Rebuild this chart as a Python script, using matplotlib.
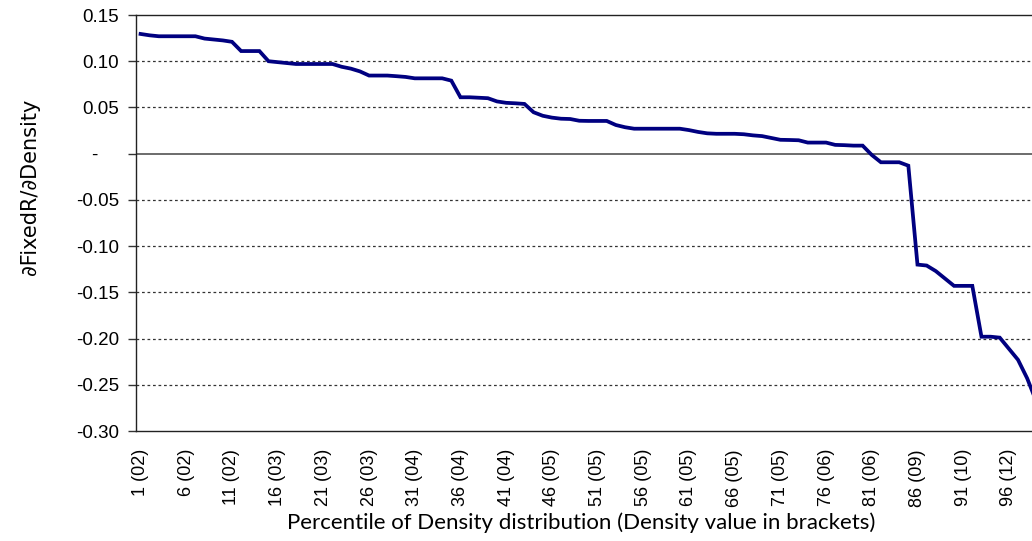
import matplotlib
matplotlib.use("Agg")
import matplotlib.pyplot as plt

# percentile of density distribution (1..99 visible in the picture)
percentiles = list(range(1, 100))
dfixed_ddensity = [
    0.1295, 0.128, 0.127, 0.127, 0.127, 0.127, 0.127, 0.1245, 0.1235, 0.1225,
    0.121, 0.111, 0.111, 0.111, 0.100, 0.099, 0.098, 0.097, 0.097, 0.097,
    0.097, 0.097, 0.094, 0.092, 0.089, 0.0845, 0.0845, 0.0845, 0.0838, 0.083,
    0.0815, 0.0815, 0.0815, 0.0815, 0.079, 0.061, 0.061, 0.0605, 0.060, 0.0565,
    0.055, 0.0545, 0.0538, 0.0448, 0.041, 0.039, 0.0378, 0.0375, 0.0356, 0.0354,
    0.0354, 0.0354, 0.031, 0.0286, 0.027, 0.027, 0.027, 0.027, 0.027, 0.027,
    0.0255, 0.0235, 0.022, 0.0215, 0.0215, 0.0215, 0.021, 0.0198, 0.019, 0.017,
    0.015, 0.0148, 0.0145, 0.012, 0.012, 0.012, 0.0095, 0.0092, 0.0087, 0.0087,
    -0.0014, -0.0093, -0.0093, -0.0093, -0.013, -0.120, -0.121, -0.127, -0.135, -0.143,
    -0.143, -0.143, -0.198, -0.198, -0.199, -0.211, -0.223, -0.243, -0.268,
]

tick_positions = list(range(1, 100, 5))
tick_labels = [
    "1 (02)", "6 (02)", "11 (02)", "16 (03)", "21 (03)", "26 (03)", "31 (04)",
    "36 (04)", "41 (04)", "46 (05)", "51 (05)", "56 (05)", "61 (05)", "66 (05)",
    "71 (05)", "76 (06)", "81 (06)", "86 (09)", "91 (10)", "96 (12)",
]
y_ticks = [0.15, 0.10, 0.05, 0.0, -0.05, -0.10, -0.15, -0.20, -0.25, -0.30]
y_labels = ["0.15", "0.10", "0.05", "-    ", "-0.05", "-0.10", "-0.15",
            "-0.20", "-0.25", "-0.30"]

fig = plt.figure(figsize=(10.32, 5.41), dpi=100)
ax = fig.add_axes([136 / 1032, 1 - 431 / 541, 1 - 136 / 1032, 416 / 541])

# dashed gridlines, solid zero line
for y in y_ticks:
    if y in (0.15, -0.30):
        continue
    if y == 0.0:
        ax.axhline(y, color="#444444", lw=1.1, zorder=1)
    else:
        ax.axhline(y, color="#333333", lw=0.9, ls=(0, (2.2, 2.2)), zorder=1)

ax.plot(percentiles, dfixed_ddensity, color="#000080", lw=2.7,
        solid_joinstyle="miter", zorder=3)

ax.set_xlim(0.5, 98.53)
ax.set_ylim(-0.30, 0.15)

ax.set_yticks(y_ticks)
ax.set_yticklabels(y_labels, fontfamily="Liberation Sans", fontsize=13.5)
ax.tick_params(axis="y", direction="out", length=6, width=1, pad=6,
               color="#333333")

ax.set_xticks(tick_positions)
ax.set_xticklabels(tick_labels, rotation=90, fontfamily="Liberation Sans",
                   fontsize=13)
ax.tick_params(axis="x", length=0, pad=13)

ax.spines["right"].set_visible(False)
for side in ("left", "top", "bottom"):
    ax.spines[side].set_color("#222222")
    ax.spines[side].set_linewidth(1.0)

fig.text(30 / 1032, 1 - 187 / 541, "\u2202FixedR/\u2202Density", rotation=90,
         ha="center", va="center", fontfamily="DejaVu Sans", fontsize=15)
fig.text(581 / 1032, 1 - 523 / 541,
         "Percentile of Density distribution (Density value in brackets)",
         ha="center", va="center", fontfamily="Lato", fontsize=16)

fig.savefig("out.png", dpi=100)
